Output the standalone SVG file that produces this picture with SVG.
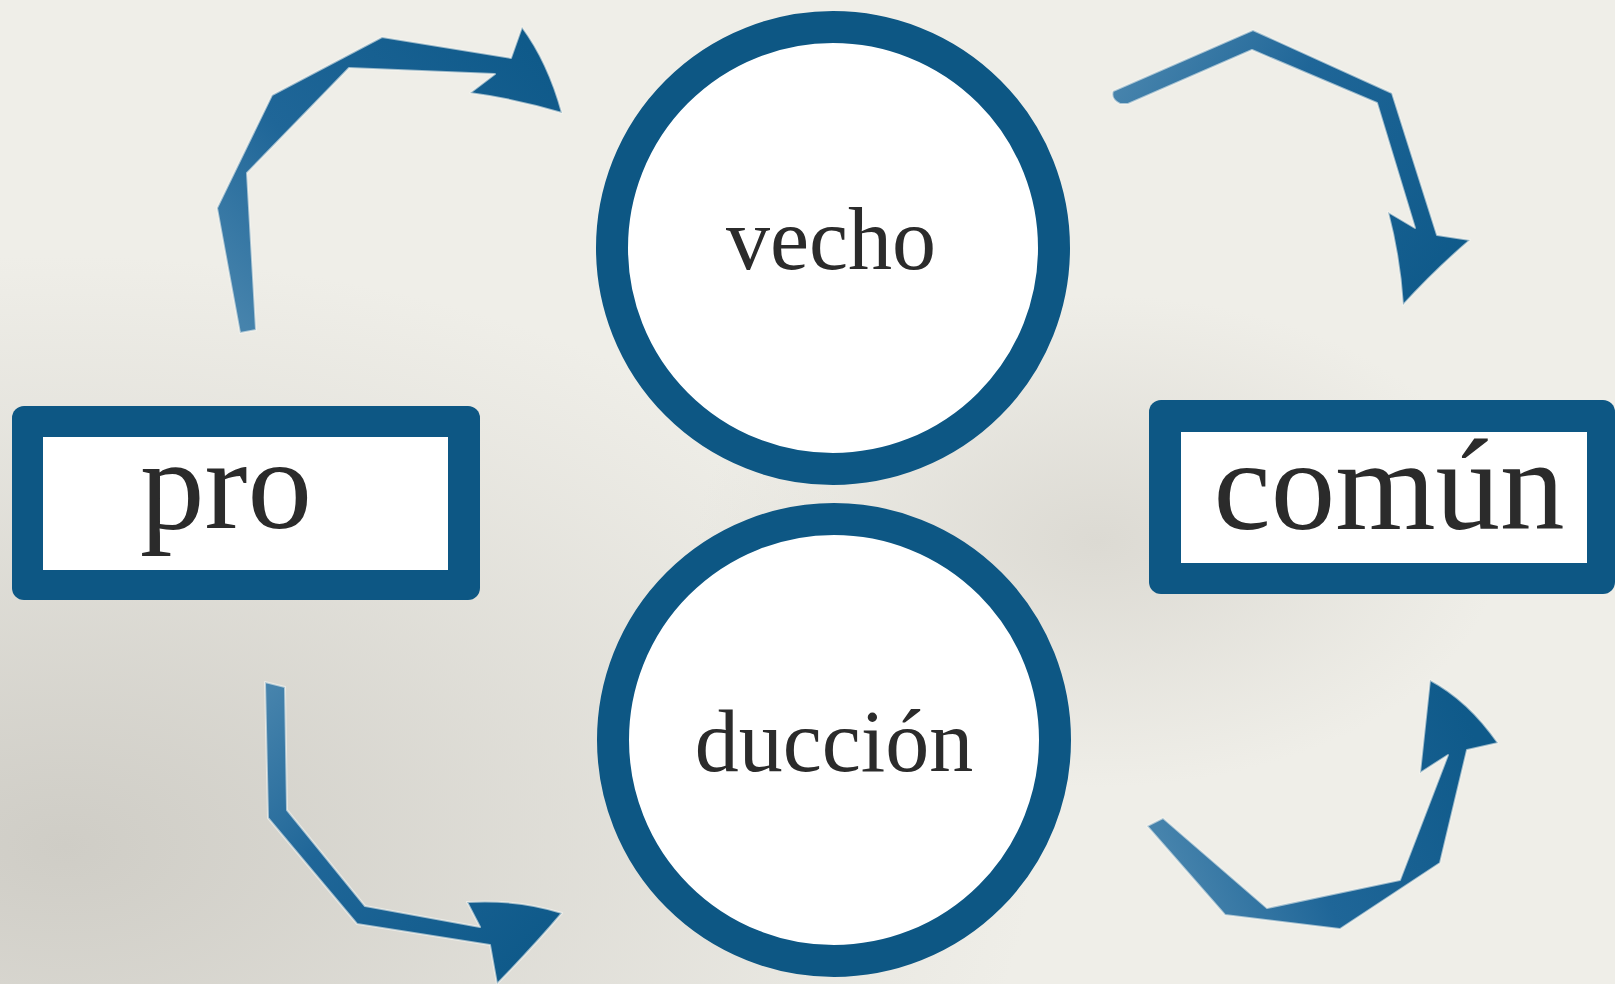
<svg xmlns="http://www.w3.org/2000/svg" width="1615" height="984" viewBox="0 0 1615 984">
  <defs>
    <style>
      .ring { fill: #ffffff; stroke: #0d5784; stroke-width: 32; }
      .frame { fill: #0d5784; }
      .inner { fill: #ffffff; }
      .lbl { font-family: "Liberation Serif", "Times New Roman", serif; fill: #2b2b2b; text-anchor: middle; }
      .arrow { stroke: #f7f7f2; stroke-opacity: 0.6; stroke-width: 2; stroke-linejoin: round; }
    </style>
    <radialGradient id="bgShade" cx="0.04" cy="0.86" r="0.6">
      <stop offset="0" stop-color="#cfcdc6"/>
      <stop offset="1" stop-color="#cfcdc6" stop-opacity="0"/>
    </radialGradient>
    <radialGradient id="bgShade2" cx="0.68" cy="0.55" r="0.25">
      <stop offset="0" stop-color="#dcdad3"/>
      <stop offset="1" stop-color="#dcdad3" stop-opacity="0"/>
    </radialGradient>
    <linearGradient id="g1" gradientUnits="userSpaceOnUse" x1="248" y1="330" x2="540" y2="60">
      <stop offset="0" stop-color="#4683ac"/>
      <stop offset="0.4" stop-color="#1f6698"/>
      <stop offset="1" stop-color="#0f5a8a"/>
    </linearGradient>
    <linearGradient id="g2" gradientUnits="userSpaceOnUse" x1="1115" y1="95" x2="1440" y2="290">
      <stop offset="0" stop-color="#4683ac"/>
      <stop offset="0.4" stop-color="#1f6698"/>
      <stop offset="1" stop-color="#0f5a8a"/>
    </linearGradient>
    <linearGradient id="g3" gradientUnits="userSpaceOnUse" x1="275" y1="685" x2="540" y2="940">
      <stop offset="0" stop-color="#4683ac"/>
      <stop offset="0.4" stop-color="#1f6698"/>
      <stop offset="1" stop-color="#0f5a8a"/>
    </linearGradient>
    <linearGradient id="g4" gradientUnits="userSpaceOnUse" x1="1155" y1="822" x2="1460" y2="700">
      <stop offset="0" stop-color="#4683ac"/>
      <stop offset="0.4" stop-color="#1f6698"/>
      <stop offset="1" stop-color="#0f5a8a"/>
    </linearGradient>
  </defs>

  <rect x="0" y="0" width="1615" height="984" fill="#efeee8"/>
  <rect x="0" y="0" width="1615" height="984" fill="url(#bgShade)"/>
  <rect x="0" y="0" width="1615" height="984" fill="url(#bgShade2)"/>

  <g id="connectors">
    <path class="arrow" fill="url(#g1)" d="M240,333 L217,208 L272,95 L382,37 L511,58 L522,27 Q548,62 562,113 Q515,99 470,93 L495,74 L349,68 L247,173 L256,330 Z"/>
    <path class="arrow" fill="url(#g2)" d="M1113,91 Q1110,99 1120,104 L1128,104 L1252,50 L1377,103 L1415,228 L1388,212 Q1400,258 1403,305 Q1435,270 1470,240 L1437,235 L1392,93 L1253,30 Z"/>
    <path class="arrow" fill="url(#g3)" d="M265,682 L268,818 L357,924 L490,945 L497,984 Q535,945 562,913 Q518,899 467,902 L480,927 L365,906 L287,810 L285,687 Z"/>
    <path class="arrow" fill="url(#g4)" d="M1147,826 L1225,915 L1340,929 L1440,863 L1467,750 L1498,743 Q1468,700 1430,680 L1420,773 L1448,755 L1400,880 L1267,908 L1163,818 Z"/>
  </g>

  <g id="node-vecho">
    <circle class="ring" cx="833" cy="248" r="221"/>
    <text class="lbl" x="831" y="269" font-size="88">vecho</text>
  </g>

  <g id="node-duccion">
    <circle class="ring" cx="834" cy="740" r="221"/>
    <text class="lbl" x="834" y="771" font-size="88">ducción</text>
  </g>

  <g id="node-pro">
    <rect class="frame" x="12" y="406" width="468" height="194" rx="12"/>
    <rect class="inner" x="43" y="437" width="405" height="133"/>
    <text class="lbl" x="226" y="528" font-size="129">pro</text>
  </g>

  <g id="node-comun">
    <rect class="frame" x="1149" y="400" width="466" height="194" rx="12"/>
    <rect class="inner" x="1181" y="432" width="406" height="131"/>
    <text class="lbl" x="1389" y="529" font-size="129">común</text>
  </g>
</svg>
